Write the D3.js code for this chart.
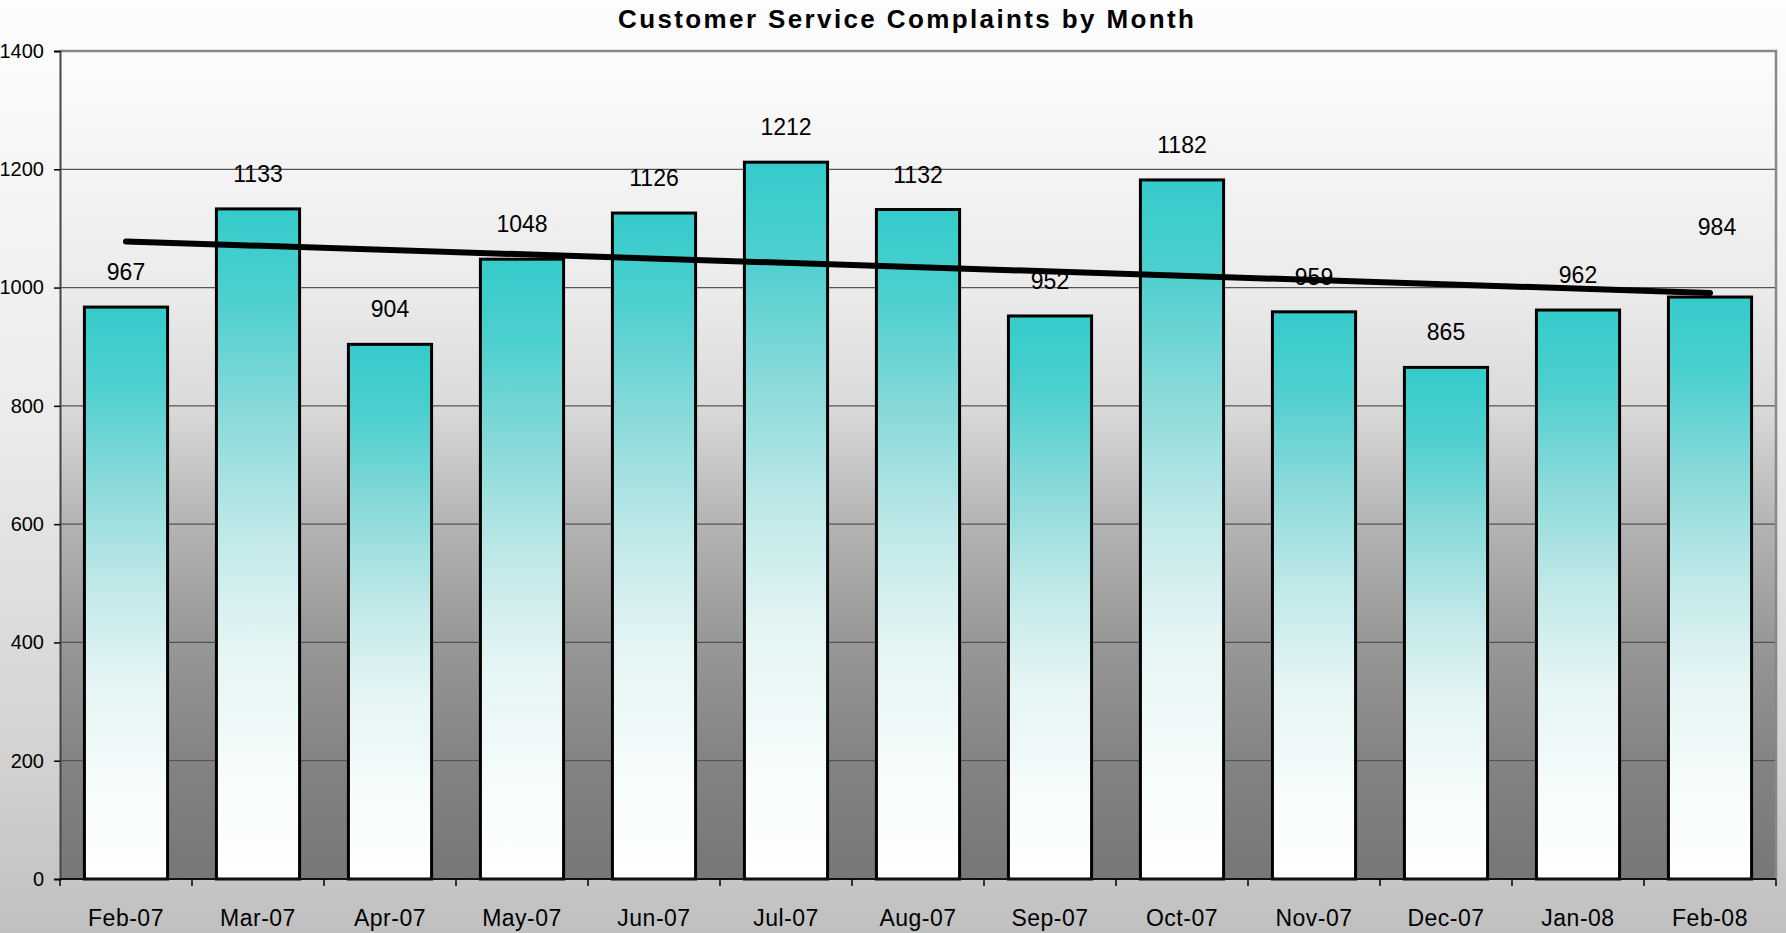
<!DOCTYPE html>
<html>
<head>
<meta charset="utf-8">
<script src="https://cdn.jsdelivr.net/npm/d3@7"></script>
<style>
    body { margin: 0; padding: 0; overflow: hidden; }
    svg { display: block; font-family: "Liberation Sans", Arial, sans-serif; }
</style>
</head>
<body>
<div id="chart"></div>
<script>
// data
const months = ["Feb-07", "Mar-07", "Apr-07", "May-07", "Jun-07", "Jul-07", "Aug-07",
    "Sep-07", "Oct-07", "Nov-07", "Dec-07", "Jan-08", "Feb-08"];
const complaints = [967, 1133, 904, 1048, 1126, 1212, 1132, 952, 1182, 959, 865, 962, 984];
const yTicks = [0, 200, 400, 600, 800, 1000, 1200, 1400];
// linear trend line, start and end value as drawn
const trendEnds = [1078, 991];

const W = 1786, H = 933;
const margin = { top: 51, right: 10, bottom: 54, left: 60 },
    width = W - margin.left - margin.right,
    height = H - margin.top - margin.bottom;

const svg = d3.select("#chart")
    .append("svg")
    .attr("width", W)
    .attr("height", H);

const defs = svg.append("defs");

// page background: light at top, grey at the bottom
const bgGrad = defs.append("linearGradient")
    .attr("id", "bgGrad")
    .attr("x1", 0).attr("y1", 0).attr("x2", 0).attr("y2", 1);
[[0, "#fdfdfd"], [0.45, "#ebebeb"], [0.8, "#d3d3d3"], [1, "#c0c0c0"]].forEach(s =>
    bgGrad.append("stop").attr("offset", s[0]).attr("stop-color", s[1]));

// plot area: white to dark grey
const plotGrad = defs.append("linearGradient")
    .attr("id", "plotGrad")
    .attr("x1", 0).attr("y1", 0).attr("x2", 0).attr("y2", 1);
[[0, "#fcfcfc"], [0.29, "#ebebeb"], [0.43, "#dadada"], [0.57, "#b4b4b4"],
    [0.715, "#979797"], [0.86, "#838383"], [1, "#777777"]].forEach(s =>
    plotGrad.append("stop").attr("offset", s[0]).attr("stop-color", s[1]));

// bar fill: teal at the top fading to white
const barGrad = defs.append("linearGradient")
    .attr("id", "barGrad")
    .attr("x1", 0).attr("y1", 0).attr("x2", 0).attr("y2", 1);
[[0, "#35cbcb"], [0.13, "#4ccfcf"], [0.3, "#88d9d9"], [0.48, "#bfe8e8"],
    [0.65, "#e4f4f4"], [0.83, "#f5fbfb"], [1, "#ffffff"]].forEach(s =>
    barGrad.append("stop").attr("offset", s[0]).attr("stop-color", s[1]));

svg.append("rect")
    .attr("width", W)
    .attr("height", H)
    .attr("fill", "url(#bgGrad)");

const g = svg.append("g")
    .attr("transform", `translate(${margin.left},${margin.top})`);

g.append("rect")
    .attr("width", width)
    .attr("height", height)
    .attr("fill", "url(#plotGrad)");

// scales
const x = d3.scaleBand()
    .domain(months)
    .range([0, width])
    .paddingInner(0.37)
    .paddingOuter(0.185);

const y = d3.scaleLinear()
    .domain([0, 1400])
    .range([height, 0]);

// gridlines
g.append("g")
    .selectAll("line")
    .data(yTicks.filter(t => t > 0 && t < 1400))
    .join("line")
    .attr("x1", 0)
    .attr("x2", width)
    .attr("y1", d => y(d))
    .attr("y2", d => y(d))
    .attr("stroke", "#555")
    .attr("stroke-width", 1.2);

// plot border, top and right
g.append("path")
    .attr("d", `M0,${y(1400)}H${width}V${height}`)
    .attr("fill", "none")
    .attr("stroke", "#888")
    .attr("stroke-width", 2.5);

// Y axis
const yAxis = g.append("g")
    .call(d3.axisLeft(y).tickValues(yTicks).tickFormat(d3.format("d"))
        .tickSize(6).tickPadding(10));
yAxis.select(".domain").attr("stroke", "#444").attr("stroke-width", 2);
yAxis.selectAll(".tick line").attr("stroke", "#000").attr("stroke-width", 1.5);
yAxis.selectAll("text")
    .attr("font-size", 20)
    .attr("fill", "#000")
    .style("font-family", "\"Liberation Sans\", Arial, sans-serif");

// bars
g.append("g")
    .selectAll("rect")
    .data(months)
    .join("rect")
    .attr("x", d => x(d))
    .attr("y", (d, i) => y(complaints[i]))
    .attr("width", x.bandwidth())
    .attr("height", (d, i) => height - y(complaints[i]))
    .attr("fill", "url(#barGrad)")
    .attr("stroke", "#000")
    .attr("stroke-width", 3);

// X axis, ticks sit between categories
const xAxis = g.append("g")
    .attr("transform", `translate(0,${height})`);
xAxis.append("line")
    .attr("x1", 0)
    .attr("x2", width)
    .attr("stroke", "#111")
    .attr("stroke-width", 2);
xAxis.selectAll(".sep")
    .data(d3.range(months.length + 1))
    .join("line")
    .attr("class", "sep")
    .attr("x1", i => i * x.step())
    .attr("x2", i => i * x.step())
    .attr("y1", 0)
    .attr("y2", 7)
    .attr("stroke", "#000")
    .attr("stroke-width", 1.5);
xAxis.selectAll("text")
    .data(months)
    .join("text")
    .attr("x", d => x(d) + x.bandwidth() / 2)
    .attr("y", 47)
    .attr("text-anchor", "middle")
    .attr("font-size", 23)
    .attr("letter-spacing", 0.5)
    .attr("fill", "#000")
    .text(d => d);

// value labels; the last one sits higher, clear of the trend line
g.append("g")
    .selectAll("text")
    .data(months)
    .join("text")
    .attr("x", (d, i) => x(d) + x.bandwidth() / 2 + (i === months.length - 1 ? 7 : 0))
    .attr("y", (d, i) => y(complaints[i]) - (i === months.length - 1 ? 62 : 27))
    .attr("text-anchor", "middle")
    .attr("font-size", 23)
    .attr("fill", "#000")
    .text((d, i) => complaints[i]);

// trend line
const first = months[0], last = months[months.length - 1];
g.append("line")
    .attr("x1", x(first) + x.bandwidth() / 2)
    .attr("x2", x(last) + x.bandwidth() / 2)
    .attr("y1", y(trendEnds[0]))
    .attr("y2", y(trendEnds[1]))
    .attr("stroke", "#000")
    .attr("stroke-width", 6)
    .attr("stroke-linecap", "round");

// title
svg.append("text")
    .attr("x", 906)
    .attr("y", 28)
    .attr("text-anchor", "middle")
    .attr("font-size", 26)
    .attr("font-weight", "bold")
    .attr("textLength", 576)
    .attr("lengthAdjust", "spacing")
    .attr("fill", "#000")
    .text("Customer Service Complaints by Month");
</script>
</body>
</html>
